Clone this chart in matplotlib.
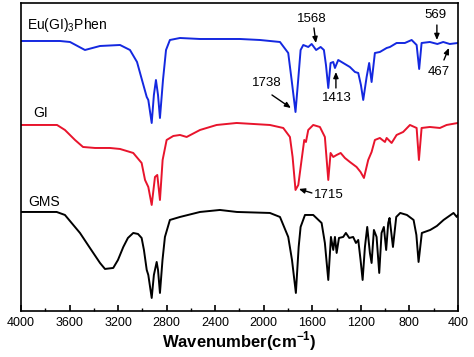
import matplotlib
matplotlib.use("Agg")
import matplotlib.pyplot as plt
from matplotlib.ticker import MultipleLocator

plt.rcParams["font.family"] = ["Liberation Sans", "DejaVu Sans"]
plt.rcParams["mathtext.fontset"] = "custom"
plt.rcParams["mathtext.rm"] = "Liberation Sans"
plt.rcParams["mathtext.bf"] = "Liberation Sans:bold"

# Eu(GI)3Phen spectrum (wavenumber, intensity a.u.)
eu_wn = [4000, 3679, 3596, 3473, 3349, 3184, 3102, 3044, 3003, 2964, 2951, 2923,
         2905, 2888, 2871, 2855, 2830, 2805, 2773, 2690, 2525, 2196, 2031, 1866,
         1798, 1770, 1738, 1716, 1696, 1674, 1633, 1605, 1568, 1531, 1504, 1487,
         1468, 1449, 1427, 1413, 1386, 1345, 1290, 1248, 1221, 1199, 1180, 1152,
         1131, 1111, 1084, 1043, 987, 960, 905, 837, 781, 740, 719, 699, 631,
         569, 521, 467, 400]
eu_val = [270, 270, 269, 261, 265, 266, 261, 249, 231, 214, 211, 188,
          216, 231, 216, 193, 231, 261, 271, 273, 272, 272, 271, 269,
          258, 231, 199, 231, 261, 266, 264, 267, 261, 264, 261, 246,
          223, 248, 249, 243, 251, 248, 244, 239, 238, 226, 211, 234,
          248, 229, 258, 259, 263, 264, 268, 268, 271, 266, 242, 268, 269,
          267, 269, 267, 268]

# GI spectrum
gi_wn = [4000, 3703, 3638, 3555, 3489, 3390, 3267, 3184, 3075, 3006, 2978, 2951,
         2923, 2896, 2877, 2855, 2833, 2800, 2745, 2690, 2635, 2525, 2388, 2223,
         1949, 1839, 1784, 1762, 1738, 1715, 1688, 1666, 1652, 1633, 1592, 1537,
         1496, 1468, 1449, 1427, 1399, 1366, 1331, 1290, 1235, 1202, 1174, 1139,
         1111, 1084, 1043, 1001, 987, 946, 905, 851, 795, 740, 721, 699, 631,
         548, 493, 400]
gi_val = [186, 186, 181, 171, 164, 163, 163, 162, 158, 148, 131, 124,
          106, 134, 136, 111, 151, 171, 175, 176, 174, 181, 186, 188,
          186, 183, 174, 154, 121, 126, 151, 171, 169, 181, 186, 184,
          174, 131, 158, 154, 156, 158, 153, 149, 144, 139, 133, 151,
          159, 171, 173, 169, 173, 168, 176, 179, 186, 183, 151, 183, 184,
          183, 186, 188]

# GMS spectrum
gms_wn = [4000, 3706, 3638, 3514, 3432, 3349, 3308, 3240, 3201, 3157, 3119, 3075,
          3036, 3006, 2987, 2964, 2951, 2923, 2905, 2882, 2871, 2855, 2834, 2814,
          2773, 2690, 2525, 2361, 2221, 1949, 1866, 1798, 1767, 1735, 1712, 1696,
          1660, 1592, 1523, 1496, 1468, 1446, 1427, 1413, 1399, 1380, 1345, 1323,
          1295, 1263, 1240, 1221, 1202, 1185, 1166, 1147, 1125, 1111, 1092, 1070,
          1048, 1029, 1010, 991, 974, 963, 935, 908, 875, 820, 765, 742, 724,
          697, 628, 573, 518, 436, 409, 400]
gms_val = [99, 99, 96, 78, 63, 48, 42, 43, 51, 64, 73, 78,
           77, 73, 61, 41, 36, 13, 36, 49, 41, 18, 51, 74,
           91, 94, 99, 101, 99, 98, 94, 74, 51, 18, 64, 84,
           96, 96, 88, 68, 31, 74, 61, 74, 58, 73, 74, 78,
           73, 74, 68, 71, 51, 31, 64, 84, 58, 48, 81, 74,
           38, 78, 84, 61, 88, 93, 64, 94, 98, 96, 91, 76, 49,
           78, 81, 85, 91, 98, 94, 96]

# peak labels: (text, text pos, arrow tail, arrow tip)
peak_labels = [
    ("1738", (1973, 228), (1932, 216), (1776, 203)),
    ("1568", (1603, 292), (1586, 283), (1570, 268)),
    ("1413", (1397, 213), (1405, 223), (1405, 239)),
    ("569", (581, 296), (573, 286), (573, 271)),
    ("467", (557, 239), (515, 251), (474, 263)),
    ("1715", (1463, 116), (1603, 118), (1710, 122)),
]

fig = plt.figure(figsize=(4.74, 3.57), dpi=100)
ax = fig.add_axes([0.0443, 0.129, 0.9217, 0.8626])

ax.plot(eu_wn, eu_val, color="#1428e0", lw=1.4)
ax.plot(gi_wn, gi_val, color="#e8142c", lw=1.4)
ax.plot(gms_wn, gms_val, color="black", lw=1.4)

ax.text(3950, 286, "Eu(GI)$_3$Phen", fontsize=10, va="center", ha="left")
ax.text(3900, 198, "GI", fontsize=10, va="center", ha="left")
ax.text(3940, 109, "GMS", fontsize=10, va="center", ha="left")

for label, txt, tail, tip in peak_labels:
    ax.text(txt[0], txt[1], label, fontsize=9.5, ha="center", va="center")
    ax.annotate("", xy=tip, xytext=tail,
                arrowprops=dict(arrowstyle="-|>,head_length=0.35,head_width=0.15",
                                color="black", lw=1.0, shrinkA=0, shrinkB=0))

ax.set_xlim(4000, 400)
ax.set_ylim(0, 308)
ax.xaxis.set_major_locator(MultipleLocator(400))
ax.xaxis.set_minor_locator(MultipleLocator(200))
ax.tick_params(axis="x", which="major", direction="in", length=4, width=1.2,
               labelsize=9, pad=4)
ax.tick_params(axis="x", which="minor", direction="in", length=2.5, width=1.0)
ax.set_yticks([])
for s in ax.spines.values():
    s.set_linewidth(1.2)

ax.set_xlabel("Wavenumber(cm$^{\\mathbf{-1}}$)", fontsize=12, fontweight="bold",
              labelpad=1)

fig.savefig("out.png", dpi=100)
